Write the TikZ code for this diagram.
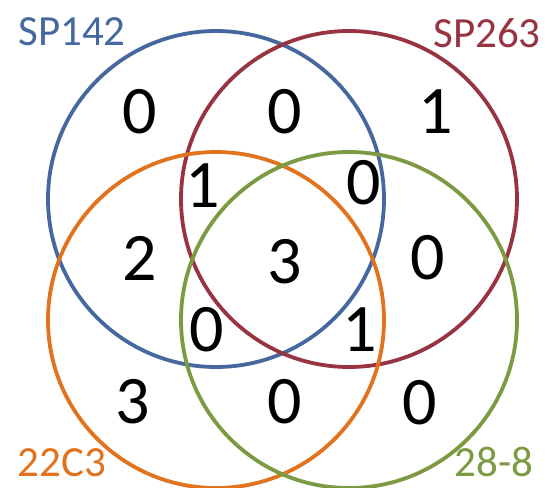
\documentclass[tikz,border=0pt]{standalone}
\usepackage{fontspec}
\setmainfont{Carlito}
\usepackage{xcolor}
\usepackage{tikz}

\definecolor{vblue}{HTML}{45699F}
\definecolor{vred}{HTML}{983442}
\definecolor{vorange}{HTML}{E2731E}
\definecolor{vgreen}{HTML}{7C9A42}

\begin{document}
\begin{tikzpicture}[
        x=1pt, y=-1pt,
        ring/.style={circle, draw=#1, line width=3.8pt, minimum size=336pt, inner sep=0pt},
        setname/.style={text=#1, inner sep=0pt, anchor=base, font=\fontsize{43}{43}\selectfont},
        count/.style={inner sep=0pt, font=\fontsize{68}{68}\selectfont}
    ]
        \useasboundingbox (0,0) rectangle (547,488);

        \node[ring=vblue] (sp142) at (216,199) {};
        \node[ring=vred] (sp263) at (349,199) {};
        \node[ring=vorange] (c22c3) at (216,320) {};
        \node[ring=vgreen] (c288) at (349,320) {};

        \node[setname=vblue] (lsp142) at (72,45) {SP142};
        \node[setname=vred] (lsp263) at (487,47) {SP263};
        \node[setname=vorange] (l22c3) at (62,476) {22C3};
        \node[setname=vgreen] (l288) at (494,476) {28-8};

        \node[count] (nb) at (140,112) {0};
        \node[count] (nbr) at (285,112) {0};
        \node[count] (nr) at (436,112) {1};
        \node[count] (nbro) at (203,186) {1};
        \node[count] (nbrg) at (364,183) {0};
        \node[count] (nbo) at (140,258) {2};
        \node[count] (nall) at (285,262) {3};
        \node[count] (nrg) at (428,258) {0};
        \node[count] (nbog) at (207,330) {0};
        \node[count] (nrog) at (360,330) {1};
        \node[count] (no) at (133,402) {3};
        \node[count] (nog) at (285,402) {0};
        \node[count] (ng) at (420,403) {0};
    \end{tikzpicture}
\end{document}
